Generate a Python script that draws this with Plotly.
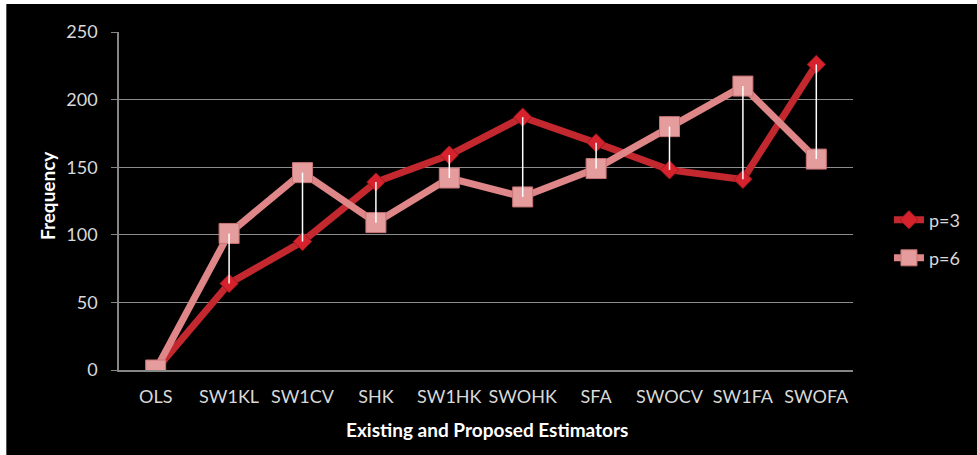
import plotly.graph_objects as go

# Estimators compared on the horizontal axis
estimators = ["OLS", "SW1KL", "SW1CV", "SHK", "SW1HK", "SWOHK", "SFA", "SWOCV", "SW1FA", "SWOFA"]

# Frequency counts for each number of predictors
freq_p3 = [0, 64, 95, 139, 159, 187, 168, 148, 141, 226]
freq_p6 = [0, 101, 146, 109, 142, 128, 149, 180, 210, 156]

y_ticks = [0, 50, 100, 150, 200, 250]

FONT = "Lato"
TICK_COLOR = "#d9d9d9"

fig = go.Figure()

# Series lines with markers
fig.add_trace(go.Scatter(
    x=estimators, y=freq_p3, name="p=3", mode="lines+markers",
    line=dict(color="#c3282e", width=7),
    marker=dict(symbol="diamond", size=14, color="#d6222c",
                line=dict(color="#9e1a20", width=1)),
    legend="legend",
))
fig.add_trace(go.Scatter(
    x=estimators, y=freq_p6, name="p=6", mode="lines+markers",
    line=dict(color="#df8688", width=7),
    marker=dict(symbol="square", size=20, color="#e59c9d",
                line=dict(color="#c87476", width=1)),
    legend="legend2",
))

# High-low connectors between the two series at each estimator
hx, hy = [], []
for cat, a, b in zip(estimators, freq_p3, freq_p6):
    hx += [cat, cat, None]
    hy += [min(a, b), max(a, b), None]
fig.add_trace(go.Scatter(
    x=hx, y=hy, mode="lines", line=dict(color="#ffffff", width=1.5),
    showlegend=False, hoverinfo="skip",
))

# Black chart background inside a thin white page edge
fig.add_shape(type="rect", xref="paper", yref="paper",
              x0=-0.1535, x1=1.2, y0=-0.3, y1=1.0828,
              fillcolor="#000000", line=dict(width=0), layer="below")

fig.add_annotation(text="<b>Frequency</b>", xref="paper", yref="paper",
                   x=-0.0965, y=0.515, xanchor="center", yanchor="middle",
                   textangle=-90, showarrow=False,
                   font=dict(family=FONT, size=19, color="#ffffff"))
fig.add_annotation(text="<b>Existing and Proposed Estimators</b>", xref="paper", yref="paper",
                   x=0.501, y=-0.1775, xanchor="center", yanchor="middle", showarrow=False,
                   font=dict(family=FONT, size=19, color="#ffffff"))

fig.update_layout(
    width=977, height=455,
    margin=dict(l=119, r=122, t=32, b=85),
    paper_bgcolor="#ffffff",
    plot_bgcolor="#404040",
    font=dict(family=FONT, size=17, color=TICK_COLOR),
    xaxis=dict(
        range=[-0.5, len(estimators) - 0.5],
        showgrid=False, showline=True, linecolor="#868686", linewidth=1.5,
        ticks="", tickfont=dict(family=FONT, size=18, color=TICK_COLOR),
        ticklabelstandoff=10, fixedrange=True,
    ),
    yaxis=dict(
        range=[0, 250], tickvals=y_ticks, showgrid=True, gridcolor="#8c8c8c", gridwidth=1,
        showline=True, linecolor="#868686", linewidth=1.5, zeroline=False,
        ticks="outside", ticklen=6, tickcolor="#868686",
        tickfont=dict(family=FONT, size=18, color=TICK_COLOR),
        ticklabelstandoff=10,
    ),
    legend=dict(x=1.049, y=0.4438, xanchor="left", yanchor="middle",
                bgcolor="rgba(0,0,0,0)", font=dict(family=FONT, size=18, color=TICK_COLOR)),
    legend2=dict(x=1.049, y=0.331, xanchor="left", yanchor="middle",
                 bgcolor="rgba(0,0,0,0)", font=dict(family=FONT, size=18, color=TICK_COLOR)),
    showlegend=True,
)

fig.write_html("out.html")
